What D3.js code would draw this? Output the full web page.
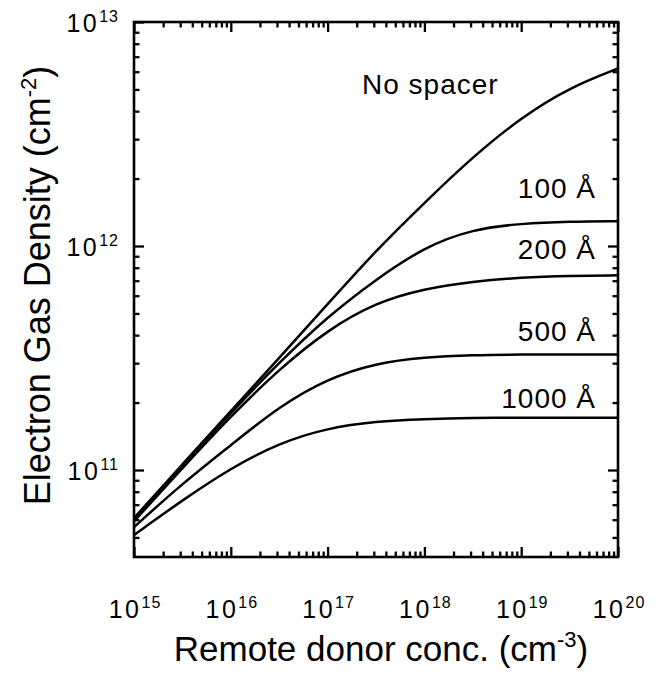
<!DOCTYPE html>
<html><head><meta charset="utf-8">
<script src="https://cdn.jsdelivr.net/npm/d3@7"></script>
<style>
html,body{margin:0;padding:0;background:#fff;}
svg{display:block;font-family:"Liberation Sans",Arial,Helvetica,sans-serif;}
</style></head>
<body><svg id="c" width="659" height="677"></svg>
<script>
// ---- data ----
const donorConc = [1e15, 3.16e15, 1e16, 3.16e16, 1e17, 3.16e17, 1e18, 3.16e18, 1e19, 3.16e19, 1e20];
const noSpacer  = [6.1e10, 1.06e11, 1.83e11, 3.16e11, 5.5e11, 9.55e11, 1.56e12, 2.5e12, 3.75e12, 5.1e12, 6.2e12];
const spacer100 = [6.0e10, 1.05e11, 1.80e11, 3.02e11, 4.84e11, 7.1e11, 0.99e12, 1.19e12, 1.26e12, 1.285e12, 1.29e12];
const spacer200 = [5.9e10, 1.02e11, 1.74e11, 2.82e11, 4.22e11, 5.6e11, 6.45e11, 6.95e11, 7.24e11, 7.36e11, 7.4e11];
const spacer500 = [5.56e10, 8.7e10, 1.29e11, 1.92e11, 2.56e11, 3.0e11, 3.19e11, 3.26e11, 3.28e11, 3.28e11, 3.28e11];
const spacer1000= [5.13e10, 7.33e10, 1.02e11, 1.32e11, 1.54e11, 1.65e11, 1.69e11, 1.71e11, 1.71e11, 1.71e11, 1.71e11];
const seriesLabels = ["No spacer", "100 Å", "200 Å", "500 Å", "1000 Å"];
const xTickExp = [15, 16, 17, 18, 19, 20];
const yTickExp = [11, 12, 13];
const xTitle = "Remote donor conc. (cm";
const xTitleSup = "-3";
const yTitle = "Electron Gas Density (cm";
const yTitleSup = "-2";

// ---- layout ----
const L = 134, R = 618, T = 22, B = 557;
const svg = d3.select("#c");
const x = d3.scaleLog().domain([1e15, 1e20]).range([L, R]);
const y = d3.scaleLog().domain([Math.pow(10, 13 - (B - T) / 224), 1e13]).range([B, T]);

const majorX = xTickExp.map(e => Math.pow(10, e));
const minorX = [];
for (let e = 15; e < 20; e++) for (let m = 2; m <= 9; m++) minorX.push(m * Math.pow(10, e));
const majorY = yTickExp.map(e => Math.pow(10, e));
const minorY = [];
for (let e = 10; e < 13; e++) for (let m = 2; m <= 9; m++) { const v = m * Math.pow(10, e); if (v >= y.domain()[0]) minorY.push(v); }

function styleAxis(g) {
  g.selectAll(".domain").remove();
  g.selectAll("text").remove();
  g.selectAll("line").attr("stroke", "#000").attr("stroke-width", 2.3);
}
const MAJ = 10, MIN = 5.5;
svg.append("g").attr("transform", `translate(0,${B})`).call(d3.axisBottom(x).tickValues(majorX).tickSize(-MAJ)).call(styleAxis);
svg.append("g").attr("transform", `translate(0,${B})`).call(d3.axisBottom(x).tickValues(minorX).tickSize(-MIN)).call(styleAxis);
svg.append("g").attr("transform", `translate(0,${T})`).call(d3.axisTop(x).tickValues(majorX).tickSize(-MAJ)).call(styleAxis);
svg.append("g").attr("transform", `translate(0,${T})`).call(d3.axisTop(x).tickValues(minorX).tickSize(-MIN)).call(styleAxis);
svg.append("g").attr("transform", `translate(${L},0)`).call(d3.axisLeft(y).tickValues(majorY).tickSize(-MAJ)).call(styleAxis);
svg.append("g").attr("transform", `translate(${L},0)`).call(d3.axisLeft(y).tickValues(minorY).tickSize(-MIN)).call(styleAxis);
svg.append("g").attr("transform", `translate(${R},0)`).call(d3.axisRight(y).tickValues(majorY).tickSize(-MAJ)).call(styleAxis);
svg.append("g").attr("transform", `translate(${R},0)`).call(d3.axisRight(y).tickValues(minorY).tickSize(-MIN)).call(styleAxis);

// frame
svg.append("rect").attr("x", L).attr("y", T).attr("width", R - L).attr("height", B - T)
  .attr("fill", "none").attr("stroke", "#000").attr("stroke-width", 2.6);

// curves
const all = [noSpacer, spacer100, spacer200, spacer500, spacer1000];
const line = d3.line().x((d, i) => x(donorConc[i])).y(d => y(d)).curve(d3.curveBasis);
svg.append("g").selectAll("path").data(all).join("path")
  .attr("d", d => line(d)).attr("fill", "none").attr("stroke", "#000").attr("stroke-width", 2.5)
  .attr("stroke-linejoin", "round");

// tick labels x
xTickExp.forEach(e => {
  const t = svg.append("text").attr("x", x(Math.pow(10, e)) + 1).attr("y", 618)
    .attr("text-anchor", "middle").attr("font-size", 25).attr("fill", "#000");
  t.append("tspan").attr("letter-spacing", 2.5).text("10");
  t.append("tspan").attr("dy", -10).attr("font-size", 16).attr("letter-spacing", 1).text(String(e));
});
// tick labels y
yTickExp.forEach(e => {
  const t = svg.append("text").attr("x", 119).attr("y", y(Math.pow(10, e)) + 10)
    .attr("text-anchor", "end").attr("font-size", 25).attr("fill", "#000");
  t.append("tspan").attr("letter-spacing", 2.5).text("10");
  t.append("tspan").attr("dy", -10).attr("font-size", 16).attr("letter-spacing", 1).text(String(e));
});

// axis titles
const xt = svg.append("text").attr("x", (L + R) / 2 + 5).attr("y", 661).attr("text-anchor", "middle")
  .attr("font-size", 35).attr("fill", "#000");
xt.append("tspan").text(xTitle);
xt.append("tspan").attr("dy", -14).attr("font-size", 22).text(xTitleSup);
xt.append("tspan").attr("dy", 14).text(")");

const yt = svg.append("text").attr("transform", `translate(50,${(T + B) / 2 - 4}) rotate(-90)`)
  .attr("text-anchor", "middle").attr("font-size", 36).attr("fill", "#000");
yt.append("tspan").text(yTitle);
yt.append("tspan").attr("dy", -14).attr("font-size", 22).text(yTitleSup);
yt.append("tspan").attr("dy", 14).text(")");

// series labels
const labelPos = [[362, 94, "start"], [596, 198, "end"], [596, 259, "end"], [596, 341, "end"], [596, 408, "end"]];
seriesLabels.forEach((s, i) => {
  svg.append("text").attr("x", labelPos[i][0]).attr("y", labelPos[i][1]).attr("text-anchor", labelPos[i][2])
    .attr("font-size", 28).attr("letter-spacing", 1).attr("fill", "#000").text(s);
});
</script></body></html>
